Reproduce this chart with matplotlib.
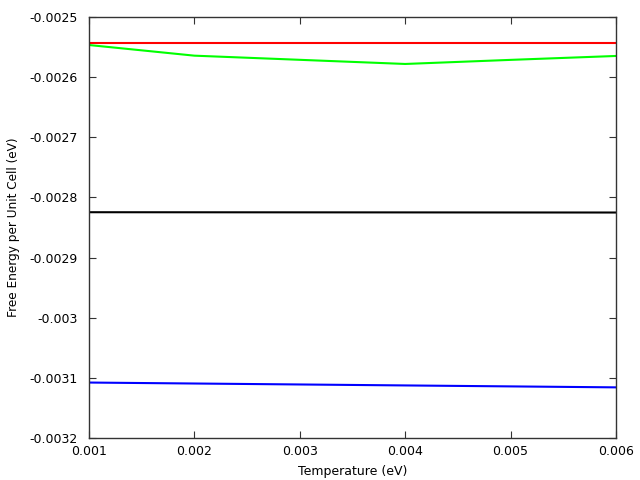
import matplotlib
matplotlib.use("Agg")
import matplotlib.pyplot as plt
from matplotlib.ticker import FuncFormatter

# DATA ----------------------------------------------------------------------- #
temperature = [0.001, 0.002, 0.003, 0.004, 0.005, 0.006]
energy_red = [-0.0025437, -0.0025437, -0.0025437, -0.0025437, -0.0025437, -0.0025437]
energy_green = [-0.0025466, -0.0025643, -0.0025712, -0.0025781, -0.0025713, -0.0025648]
energy_black = [-0.0028246, -0.0028247, -0.0028248, -0.0028249, -0.0028250, -0.0028251]
energy_blue = [-0.0031078, -0.0031094, -0.0031110, -0.0031126, -0.0031142, -0.0031158]

x_ticks = [0.001, 0.002, 0.003, 0.004, 0.005, 0.006]
y_ticks = [-0.0032, -0.0031, -0.003, -0.0029, -0.0028, -0.0027, -0.0026, -0.0025]


def fmt_g(value, _pos):
    return f"{value:g}"


# PLOT ----------------------------------------------------------------------- #
plt.rcParams["font.family"] = "DejaVu Sans"
plt.rcParams["font.size"] = 9

fig = plt.figure(figsize=(6.4, 4.8), dpi=100)
ax = fig.add_axes([0.139, 0.0875, 0.8235, 0.8771])

ax.plot(temperature, energy_red, color="#ff0000", lw=1.5)
ax.plot(temperature, energy_green, color="#00ff00", lw=1.5)
ax.plot(temperature, energy_black, color="#000000", lw=1.5)
ax.plot(temperature, energy_blue, color="#0000ff", lw=1.5)

ax.set_xlim(0.001, 0.006)
ax.set_ylim(-0.0032, -0.0025)
ax.set_xticks(x_ticks)
ax.set_yticks(y_ticks)
ax.xaxis.set_major_formatter(FuncFormatter(fmt_g))
ax.yaxis.set_major_formatter(FuncFormatter(fmt_g))
ax.tick_params(direction="in", top=True, right=True, length=5, width=0.8,
               color="#333333", labelsize=9)
ax.tick_params(axis="y", pad=8)
ax.tick_params(axis="x", pad=5)
for spine in ax.spines.values():
    spine.set_color("#333333")
    spine.set_linewidth(1.0)

ax.set_xlabel("Temperature (eV)", fontsize=9, labelpad=5)
ax.set_ylabel("Free Energy per Unit Cell (eV)", fontsize=8.7, labelpad=7)

fig.savefig("out.png", dpi=100)
